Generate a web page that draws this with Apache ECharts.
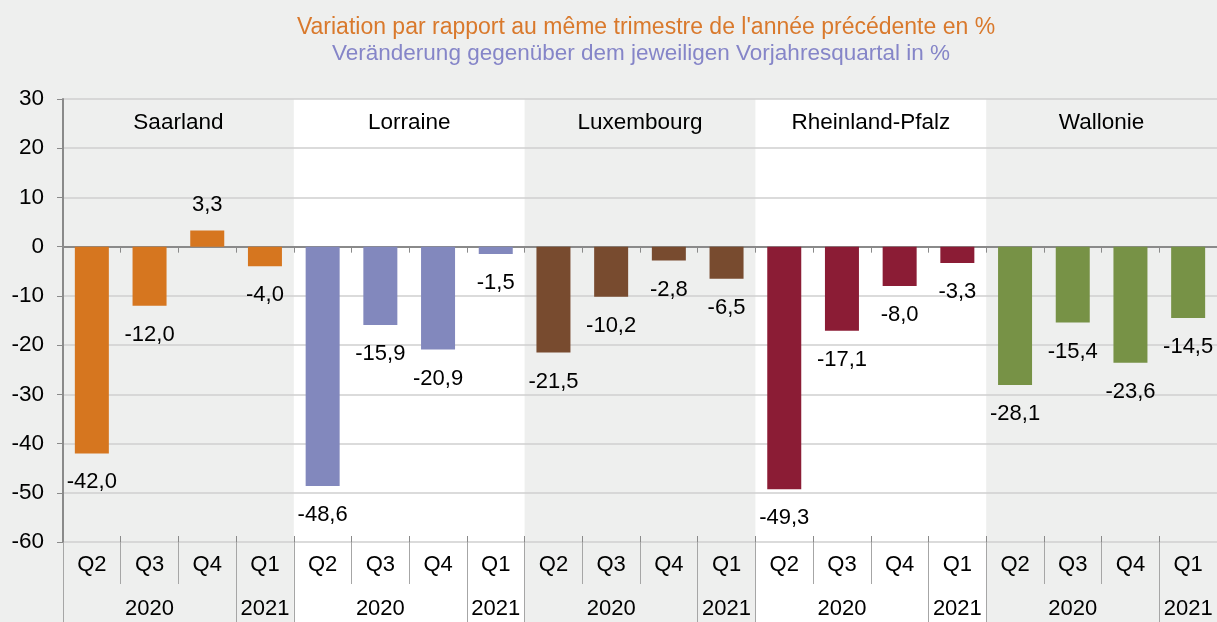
<!DOCTYPE html>
<html>
<head>
<meta charset="utf-8">
<script src="https://cdn.jsdelivr.net/npm/echarts@6/dist/echarts.min.js"></script>
<style>
  html, body { margin: 0; padding: 0; background: #eeefee; }
  #chart { width: 1217px; height: 622px; }
</style>
</head>
<body>
<div id="chart"></div>
<script>
// données
var regions = ['Saarland', 'Lorraine', 'Luxembourg', 'Rheinland-Pfalz', 'Wallonie'];
var quarters = ['Q2', 'Q3', 'Q4', 'Q1'];
var years = ['', '2020', '', '2021'];
var regionColors = ['#d6761f', '#8288bd', '#784b2f', '#8b1c35', '#779246'];

var saarland = [-42.0, -12.0, 3.3, -4.0];
var lorraine = [-48.6, -15.9, -20.9, -1.5];
var luxembourg = [-21.5, -10.2, -2.8, -6.5];
var rheinlandPfalz = [-49.3, -17.1, -8.0, -3.3];
var wallonie = [-28.1, -15.4, -23.6, -14.5];

var yTicks = { min: -60, max: 30, interval: 10 };

chart()
function chart(){

    var myChart = echarts.init(document.getElementById('chart'));
    var font = 'Liberation Sans, Arial, sans-serif';
    var allValues = [saarland, lorraine, luxembourg, rheinlandPfalz, wallonie];

    var quarterCats = [], yearCats = [], barData = [];
    for (var r = 0; r < regions.length; r++) {
        for (var q = 0; q < quarters.length; q++) {
            var v = allValues[r][q];
            quarterCats.push(quarters[q]);
            yearCats.push(years[q]);
            barData.push({
                value: v,
                itemStyle: { color: regionColors[r] },
                label: v < 0 ? { position: 'bottom', distance: 18 } : { position: 'top', distance: 14 }
            });
        }
    }

    // trait long: bord de région et avant Q1
    function yearTick(index) {
        return index % 4 === 0 || index % 4 === 3;
    }

    var option = {
        backgroundColor: '#eeefee',
        animation: false,
        title: [
            {
                text: "Variation par rapport au même trimestre de l'année précédente en %",
                left: 646, top: 16, padding: 0, textAlign: 'center',
                textStyle: { color: '#d9792c', fontSize: 23, fontWeight: 'normal', fontFamily: font }
            },
            {
                text: 'Veränderung gegenüber dem jeweiligen Vorjahresquartal in %',
                left: 641, top: 42, padding: 0, textAlign: 'center',
                textStyle: { color: '#8585c8', fontSize: 22.5, fontWeight: 'normal', fontFamily: font }
            }
        ],
        grid: { left: 63, right: 0, top: 99, bottom: 80 },
        xAxis: [
            {   // trimestres
                type: 'category', data: quarterCats, position: 'bottom',
                axisLine: { show: false, onZero: false },
                axisTick: { show: true, length: 42, lineStyle: { color: '#a6a6a6' } },
                axisLabel: { interval: 0, margin: 12, color: '#000', fontSize: 22, fontFamily: font }
            },
            {   // années
                type: 'category', data: yearCats, position: 'bottom',
                axisLine: { show: false, onZero: false },
                axisTick: { show: true, length: 80, interval: yearTick, lineStyle: { color: '#a6a6a6' } },
                axisLabel: { interval: 0, margin: 56, color: '#000', fontSize: 22, fontFamily: font }
            },
            {   // ligne zéro
                type: 'category', data: quarterCats, position: 'bottom',
                axisLine: { show: true, onZero: true, lineStyle: { color: '#8a8a8a', width: 2 } },
                axisTick: { show: true, length: 6, lineStyle: { color: '#8a8a8a' } },
                axisLabel: { show: false }
            },
            {
                type: 'category', data: quarterCats, position: 'bottom',
                axisLine: { show: false, onZero: true },
                axisTick: { show: true, inside: true, length: 6, lineStyle: { color: '#8a8a8a' } },
                axisLabel: { show: false }
            },
            {   // noms des régions
                type: 'category', data: regions, position: 'top',
                axisLine: { show: false },
                axisTick: { show: false },
                axisLabel: { inside: true, interval: 0, margin: 12, color: '#000', fontSize: 22.5, fontFamily: font }
            }
        ],
        yAxis: {
            type: 'value', min: yTicks.min, max: yTicks.max, interval: yTicks.interval,
            axisLine: { show: true, lineStyle: { color: '#8a8a8a', width: 2 } },
            axisTick: { show: true, length: 6, lineStyle: { color: '#8a8a8a' } },
            axisLabel: { margin: 19, color: '#000', fontSize: 22.5, fontFamily: font },
            splitLine: { lineStyle: { color: '#cfcfcf', width: 1.5 } }
        },
        series: [
            {
                type: 'bar',
                xAxisIndex: 0,
                barWidth: 34,
                data: barData,
                label: {
                    show: true,
                    color: '#000',
                    fontSize: 22,
                    fontFamily: font,
                    formatter: function (p) { return p.value.toFixed(1).replace('.', ','); }
                }
            }
        ]
    };

    myChart.setOption(option);

    // bandes blanches (Lorraine, Rheinland-Pfalz)
    var top = myChart.convertToPixel({ yAxisIndex: 0 }, yTicks.max);
    var step = myChart.convertToPixel({ xAxisIndex: 0 }, 1) - myChart.convertToPixel({ xAxisIndex: 0 }, 0);
    var rects = [];
    [1, 3].forEach(function (g) {
        var x0 = myChart.convertToPixel({ xAxisIndex: 0 }, g * 4) - step / 2;
        var x1 = myChart.convertToPixel({ xAxisIndex: 0 }, g * 4 + 3) + step / 2;
        rects.push({
            type: 'rect', z: -10, silent: true,
            shape: { x: x0, y: top, width: x1 - x0, height: 622 - top },
            style: { fill: '#ffffff' }
        });
    });
    myChart.setOption({ graphic: rects });

}
</script>
</body>
</html>
